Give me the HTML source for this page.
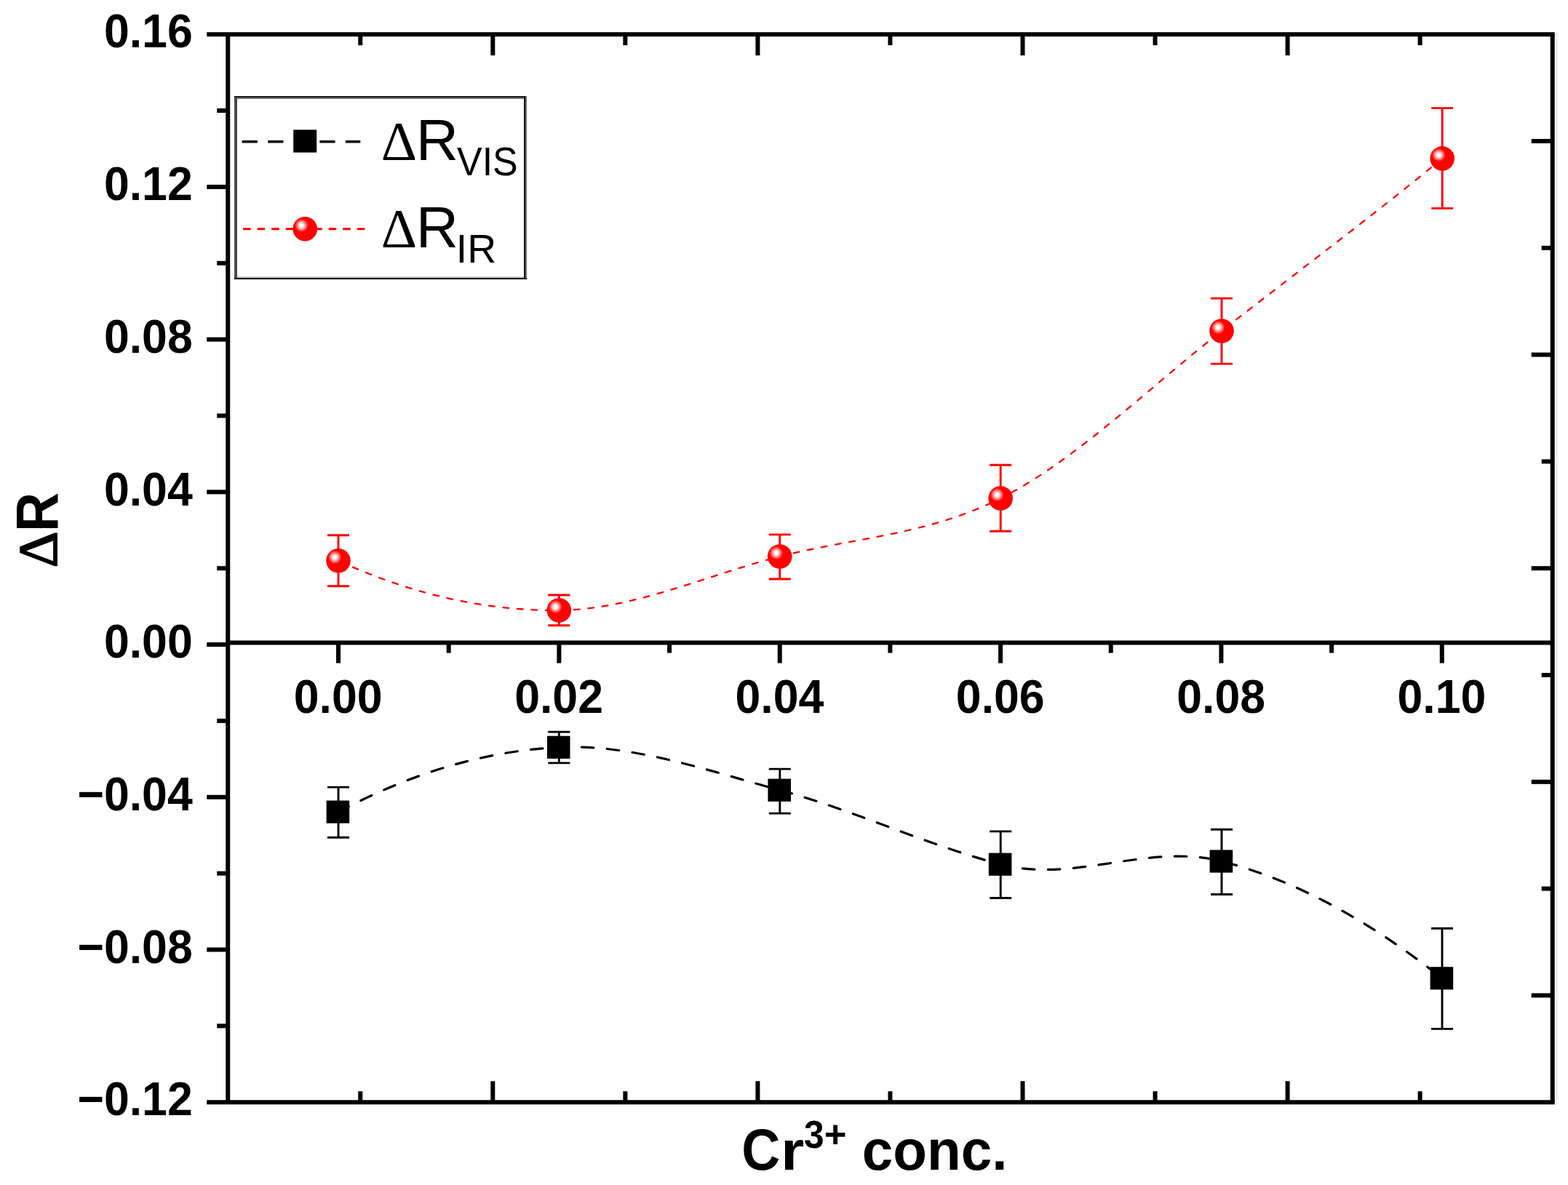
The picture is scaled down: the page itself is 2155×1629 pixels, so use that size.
<!DOCTYPE html>
<html lang="en"><head><meta charset="utf-8"><title>ΔR vs Cr3+ conc.</title>
<style>html,body{margin:0;padding:0;background:#fff;overflow:hidden}svg{display:block}text{font-family:"Liberation Sans",Arial,Helvetica,sans-serif;fill:#000}.sf{font-family:"Liberation Serif","DejaVu Serif",serif}</style>
</head><body>
<svg xmlns="http://www.w3.org/2000/svg" width="2155" height="1629" viewBox="0 0 2155 1629">
<defs><radialGradient id="ball" cx="0.357" cy="0.357" r="0.275" fx="0.357" fy="0.357"><stop offset="0" stop-color="#fff"/><stop offset="0.22" stop-color="#fff"/><stop offset="0.6" stop-color="#ff8c8c"/><stop offset="1" stop-color="#f00"/></radialGradient></defs>
<rect x="0" y="0" width="2155" height="1629" fill="#fff"/>
<g stroke="#dcdcdc" stroke-width="1.2" fill="none">
<line x1="2139.9" y1="44" x2="2139.9" y2="1518"/>
</g>
<path d="M465.00 770.80 C566.10 817.20 667.20 839.81 768.30 839.00 C869.43 838.19 970.57 790.89 1071.70 765.00 C1172.87 739.10 1274.03 735.89 1375.20 685.00 C1476.47 634.06 1577.73 534.19 1679.00 455.00 C1780.07 375.97 1881.13 300.77 1982.20 217.90" fill="none" stroke="#f00" stroke-width="2.3" stroke-linecap="round" stroke-dasharray="7.8 11.72" stroke-dashoffset="-2.1"/>
<path d="M465.00 1116.10 C566.10 1062.52 667.20 1032.15 768.30 1027.30 C869.47 1022.44 970.63 1058.88 1071.80 1086.20 C1172.93 1113.51 1274.07 1161.70 1375.20 1188.20 C1476.47 1214.73 1577.73 1158.18 1679.00 1184.00 C1780.00 1209.76 1881.00 1265.11 1982.00 1344.80" fill="none" stroke="#000" stroke-width="3.2" stroke-linecap="round" stroke-dasharray="16.5 18.52" stroke-dashoffset="0.5"/>
<g stroke="#000" stroke-width="6" fill="none" stroke-linecap="butt">
<line x1="284.2" y1="47.2" x2="2136.7" y2="47.2"/>
<line x1="284.2" y1="1515.2" x2="2136.7" y2="1515.2"/>
<line x1="313.2" y1="47.2" x2="313.2" y2="1515.2"/>
<line x1="2133.7" y1="47.2" x2="2133.7" y2="1515.2"/>
<line x1="313.2" y1="883.6" x2="2133.7" y2="883.6"/>
</g>
<g stroke="#000" stroke-width="6" fill="none">
<line x1="284.2" y1="256.91" x2="313.2" y2="256.91"/>
<line x1="284.2" y1="466.63" x2="313.2" y2="466.63"/>
<line x1="284.2" y1="676.34" x2="313.2" y2="676.34"/>
<line x1="284.2" y1="886.06" x2="313.2" y2="886.06"/>
<line x1="284.2" y1="1095.77" x2="313.2" y2="1095.77"/>
<line x1="284.2" y1="1305.48" x2="313.2" y2="1305.48"/>
<line x1="298.2" y1="152.06" x2="313.2" y2="152.06"/>
<line x1="298.2" y1="361.77" x2="313.2" y2="361.77"/>
<line x1="298.2" y1="571.49" x2="313.2" y2="571.49"/>
<line x1="298.2" y1="781.2" x2="313.2" y2="781.2"/>
<line x1="298.2" y1="990.91" x2="313.2" y2="990.91"/>
<line x1="298.2" y1="1200.63" x2="313.2" y2="1200.63"/>
<line x1="298.2" y1="1410.34" x2="313.2" y2="1410.34"/>
<line x1="2104.7" y1="194" x2="2133.7" y2="194"/>
<line x1="2118.7" y1="340.8" x2="2133.7" y2="340.8"/>
<line x1="2104.7" y1="487.6" x2="2133.7" y2="487.6"/>
<line x1="2118.7" y1="634.4" x2="2133.7" y2="634.4"/>
<line x1="2104.7" y1="781.2" x2="2133.7" y2="781.2"/>
<line x1="2118.7" y1="928" x2="2133.7" y2="928"/>
<line x1="2104.7" y1="1074.8" x2="2133.7" y2="1074.8"/>
<line x1="2118.7" y1="1221.6" x2="2133.7" y2="1221.6"/>
<line x1="2104.7" y1="1368.4" x2="2133.7" y2="1368.4"/>
<line x1="495.25" y1="47.2" x2="495.25" y2="62.2"/>
<line x1="495.25" y1="1515.2" x2="495.25" y2="1500.2"/>
<line x1="677.3" y1="47.2" x2="677.3" y2="76.2"/>
<line x1="677.3" y1="1515.2" x2="677.3" y2="1486.2"/>
<line x1="859.35" y1="47.2" x2="859.35" y2="62.2"/>
<line x1="859.35" y1="1515.2" x2="859.35" y2="1500.2"/>
<line x1="1041.4" y1="47.2" x2="1041.4" y2="76.2"/>
<line x1="1041.4" y1="1515.2" x2="1041.4" y2="1486.2"/>
<line x1="1223.45" y1="47.2" x2="1223.45" y2="62.2"/>
<line x1="1223.45" y1="1515.2" x2="1223.45" y2="1500.2"/>
<line x1="1405.5" y1="47.2" x2="1405.5" y2="76.2"/>
<line x1="1405.5" y1="1515.2" x2="1405.5" y2="1486.2"/>
<line x1="1587.55" y1="47.2" x2="1587.55" y2="62.2"/>
<line x1="1587.55" y1="1515.2" x2="1587.55" y2="1500.2"/>
<line x1="1769.6" y1="47.2" x2="1769.6" y2="76.2"/>
<line x1="1769.6" y1="1515.2" x2="1769.6" y2="1486.2"/>
<line x1="1951.65" y1="47.2" x2="1951.65" y2="62.2"/>
<line x1="1951.65" y1="1515.2" x2="1951.65" y2="1500.2"/>
<line x1="465" y1="883.6" x2="465" y2="911.6"/>
<line x1="768.35" y1="883.6" x2="768.35" y2="911.6"/>
<line x1="1071.7" y1="883.6" x2="1071.7" y2="911.6"/>
<line x1="1375.05" y1="883.6" x2="1375.05" y2="911.6"/>
<line x1="1678.4" y1="883.6" x2="1678.4" y2="911.6"/>
<line x1="1981.75" y1="883.6" x2="1981.75" y2="911.6"/>
<line x1="616.67" y1="883.6" x2="616.67" y2="897.6"/>
<line x1="920.03" y1="883.6" x2="920.03" y2="897.6"/>
<line x1="1223.38" y1="883.6" x2="1223.38" y2="897.6"/>
<line x1="1526.73" y1="883.6" x2="1526.73" y2="897.6"/>
<line x1="1830.08" y1="883.6" x2="1830.08" y2="897.6"/>
</g>
<g stroke="#f00" stroke-width="2.9" fill="none">
<path d="M450 735.8 H480 M465 735.8 V805.7 M450 805.7 H480"/>
<path d="M753.3 818 H783.3 M768.3 818 V859.8 M753.3 859.8 H783.3"/>
<path d="M1056.7 734.9 H1086.7 M1071.7 734.9 V796 M1056.7 796 H1086.7"/>
<path d="M1360.2 639.3 H1390.2 M1375.2 639.3 V730.3 M1360.2 730.3 H1390.2"/>
<path d="M1664 410.1 H1694 M1679 410.1 V500.1 M1664 500.1 H1694"/>
<path d="M1967.2 148.6 H1997.2 M1982.2 148.6 V286.4 M1967.2 286.4 H1997.2"/>
</g>
<g stroke="#000" stroke-width="2.9" fill="none">
<path d="M450 1082.1 H480 M465 1082.1 V1151.3 M450 1151.3 H480"/>
<path d="M753.3 1006.1 H783.3 M768.3 1006.1 V1048.9 M753.3 1048.9 H783.3"/>
<path d="M1056.8 1057.1 H1086.8 M1071.8 1057.1 V1118.1 M1056.8 1118.1 H1086.8"/>
<path d="M1360.2 1142.9 H1390.2 M1375.2 1142.9 V1234.5 M1360.2 1234.5 H1390.2"/>
<path d="M1664 1140.3 H1694 M1679 1140.3 V1229.5 M1664 1229.5 H1694"/>
<path d="M1967 1276.3 H1997 M1982 1276.3 V1414.4 M1967 1414.4 H1997"/>
</g>
<circle cx="465" cy="770.8" r="16.8" fill="url(#ball)"/>
<circle cx="768.3" cy="839" r="16.8" fill="url(#ball)"/>
<circle cx="1071.7" cy="765" r="16.8" fill="url(#ball)"/>
<circle cx="1375.2" cy="685" r="16.8" fill="url(#ball)"/>
<circle cx="1679" cy="455" r="16.8" fill="url(#ball)"/>
<circle cx="1982.2" cy="217.9" r="16.8" fill="url(#ball)"/>
<rect x="448.6" y="1100.5" width="31.6" height="31.2" fill="#000"/>
<rect x="751.9" y="1011.7" width="31.6" height="31.2" fill="#000"/>
<rect x="1055.4" y="1070.6" width="31.6" height="31.2" fill="#000"/>
<rect x="1358.8" y="1172.6" width="31.6" height="31.2" fill="#000"/>
<rect x="1662.6" y="1168.4" width="31.6" height="31.2" fill="#000"/>
<rect x="1965.6" y="1329.2" width="31.6" height="31.2" fill="#000"/>
<g font-weight="bold" font-size="62.6" text-anchor="end">
<text transform="translate(264.7 65.4) scale(1 1.042)">0.16</text>
<text transform="translate(264.7 275.11) scale(1 1.042)">0.12</text>
<text transform="translate(264.7 484.83) scale(1 1.042)">0.08</text>
<text transform="translate(264.7 694.54) scale(1 1.042)">0.04</text>
<text transform="translate(264.7 904.26) scale(1 1.042)">0.00</text>
<text transform="translate(264.7 1113.97) scale(1 1.042)">−0.04</text>
<text transform="translate(264.7 1323.68) scale(1 1.042)">−0.08</text>
<text transform="translate(264.7 1533.4) scale(1 1.042)">−0.12</text>
</g>
<g font-weight="bold" font-size="62.6" text-anchor="middle">
<text transform="translate(464.7 980) scale(1 1.042)">0.00</text>
<text transform="translate(768.05 980) scale(1 1.042)">0.02</text>
<text transform="translate(1071.4 980) scale(1 1.042)">0.04</text>
<text transform="translate(1374.75 980) scale(1 1.042)">0.06</text>
<text transform="translate(1678.1 980) scale(1 1.042)">0.08</text>
<text transform="translate(1981.45 980) scale(1 1.042)">0.10</text>
</g>
<text transform="rotate(-90)" font-weight="bold"><tspan x="-780.30" y="78.10" font-size="76.97" textLength="49.66" lengthAdjust="spacingAndGlyphs" class="sf" font-weight="normal" stroke="#000" stroke-width="1.8">Δ</tspan><tspan x="-730.97" y="79.49" font-size="81.01" textLength="54.14" lengthAdjust="spacingAndGlyphs">R</tspan></text>
<text font-weight="bold"><tspan x="1019.16" y="1607.91" font-size="79.01" textLength="53.03" lengthAdjust="spacingAndGlyphs">C</tspan><tspan x="1073.35" y="1608.20" font-size="76.11" textLength="32.02" lengthAdjust="spacingAndGlyphs">r</tspan><tspan x="1104.96" y="1577.57" font-size="52.96" textLength="27.64" lengthAdjust="spacingAndGlyphs">3</tspan><tspan x="1132.69" y="1576.68" font-size="50.98" textLength="30.76" lengthAdjust="spacingAndGlyphs">+</tspan><tspan font-size="20"> </tspan><tspan x="1184.82" y="1608.43" font-size="77.45" textLength="199.79" lengthAdjust="spacingAndGlyphs">conc.</tspan></text>
<g shape-rendering="crispEdges">
<rect x="322" y="132" width="402" height="252" fill="#fff"/>
<rect x="322" y="132" width="4" height="252" fill="#4a4a4a"/>
<rect x="322" y="132" width="402" height="2" fill="#1e1e1e"/>
<rect x="326" y="134" width="396" height="2" fill="#707070"/>
<rect x="720" y="132" width="2" height="252" fill="#141414"/>
<rect x="722" y="132" width="2" height="252" fill="#6a6a6a"/>
<rect x="326" y="380" width="394" height="2" fill="#c8c8c8"/>
<rect x="322" y="382" width="402" height="2" fill="#000"/>
<rect x="324" y="385" width="400" height="1" fill="#ececec"/>
</g>
<line x1="332.7" y1="194.8" x2="495.3" y2="194.8" stroke="#000" stroke-width="3.6" stroke-dasharray="21.2 14.35"/>
<rect x="403.2" y="178.4" width="32" height="31.2" fill="#000"/>
<line x1="334" y1="314.7" x2="501.4" y2="314.7" stroke="#f00" stroke-width="3" stroke-dasharray="10.6 9"/>
<circle cx="419.2" cy="314.7" r="16.8" fill="url(#ball)"/>
<text><tspan x="523.82" y="219.70" font-size="75.15" textLength="49.32" lengthAdjust="spacingAndGlyphs" class="sf">Δ</tspan><tspan x="571.73" y="219.50" font-size="79.06" textLength="58.38" lengthAdjust="spacingAndGlyphs">R</tspan><tspan x="628.04" y="241.25" font-size="54.65" textLength="83.63" lengthAdjust="spacingAndGlyphs">VIS</tspan></text>
<text><tspan x="523.82" y="339.70" font-size="75.15" textLength="49.32" lengthAdjust="spacingAndGlyphs" class="sf">Δ</tspan><tspan x="571.73" y="339.50" font-size="79.06" textLength="58.38" lengthAdjust="spacingAndGlyphs">R</tspan><tspan x="626.82" y="361.03" font-size="54.82" textLength="55.35" lengthAdjust="spacingAndGlyphs">IR</tspan></text>
</svg>
</body></html>
